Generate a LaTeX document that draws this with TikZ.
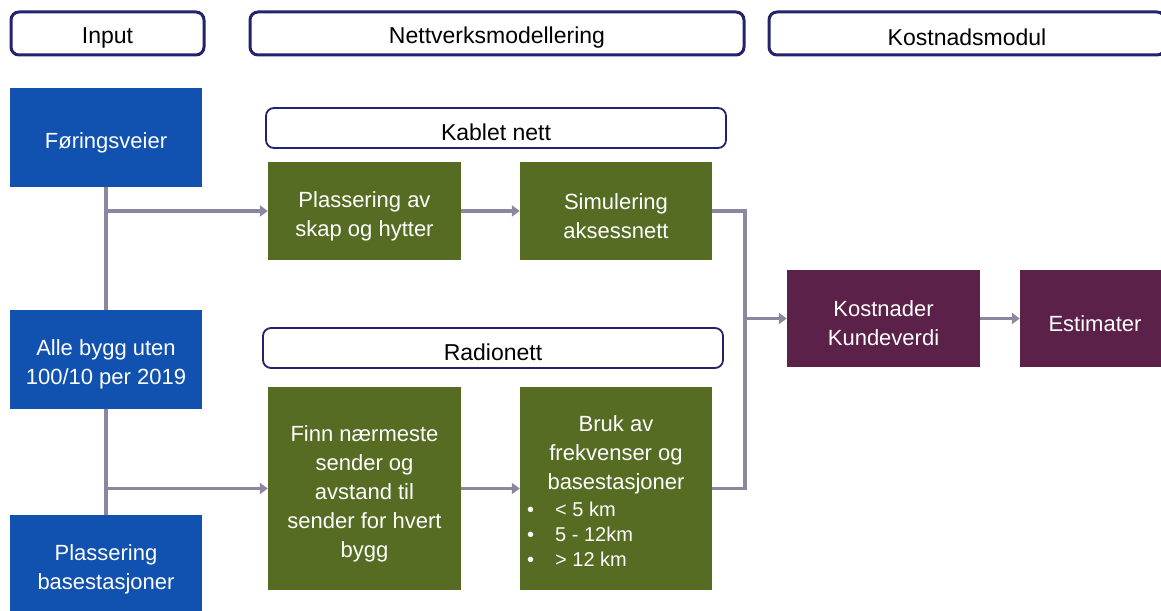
\documentclass[tikz,border=0pt]{standalone}
\usepackage{fontspec}
\setmainfont{Liberation Sans}
\usetikzlibrary{arrows.meta}
\definecolor{inblue}{HTML}{1151B0}
\definecolor{ngreen}{HTML}{566C23}
\definecolor{kpurple}{HTML}{5B2149}
\definecolor{lgrey}{HTML}{8D86A1}
\definecolor{navy}{HTML}{22226E}
\begin{document}
\begin{tikzpicture}[x=1pt,y=-1pt,
  hlbl/.style={inner sep=0pt, yshift=-4pt, align=center, font=\fontsize{23}{27}\selectfont},
  lbl/.style={inner sep=0pt, yshift=-5pt, text=white, align=center, font=\fontsize{22}{29}\selectfont},
  hdr/.style={draw=navy, line width=3pt, rounded corners=8pt, fill=white, inner sep=0pt, minimum height=43pt},
  sub/.style={draw=navy, line width=1.8pt, rounded corners=8pt, fill=white, inner sep=0pt, minimum height=40pt},
  box/.style={inner sep=0pt},
  bbox/.style={box, fill=inblue, minimum width=192pt},
  gbox/.style={box, fill=ngreen, minimum width=193pt},
  pbox/.style={box, fill=kpurple, minimum height=97pt},
  conn/.style={draw=lgrey, line width=3.5pt},
  arr/.style={conn, -{Triangle[length=8pt,width=11pt]}}]
\clip (0,0) rectangle (1161,610);
% headers
\node[hdr, minimum width=193pt, label={[hlbl]center:Input}] (hin) at (107.5,33.5) {};
\node[hdr, minimum width=494pt, label={[hlbl]center:Nettverksmodellering}] (hnet) at (497,33.5) {};
\node[hdr, minimum width=396pt, label={[hlbl]center:Kostnadsmodul}] (hkost) at (967,33.5) {};
\node[sub, minimum width=460pt, label={[hlbl]center:Kablet nett}] (hkab) at (496,128) {};
\node[sub, minimum width=460pt, label={[hlbl]center:Radionett}] (hrad) at (493,348) {};
% input boxes
\node[bbox, minimum height=99pt, label={[lbl]center:Føringsveier}] (fb) at (106,137.5) {};
\node[bbox, minimum height=99pt, label={[lbl]center:{Alle bygg uten\\100/10 per 2019}}] (ab) at (106,359.5) {};
\node[bbox, minimum height=98pt, label={[lbl]center:{Plassering\\basestasjoner}}] (pb) at (106,564) {};
% green boxes
\node[gbox, minimum height=98pt, label={[lbl]center:{Plassering av\\skap og hytter}}] (g1) at (364.5,211) {};
\node[gbox, minimum height=98pt, minimum width=192pt, label={[lbl]center:{Simulering\\aksessnett}}] (g2) at (616,211) {};
\node[gbox, minimum height=203pt, label={[lbl]center:{Finn nærmeste\\sender og\\avstand til\\sender for hvert\\bygg}}] (g3) at (364.5,488.5) {};
\node[gbox, minimum height=203pt, minimum width=192pt] (g4) at (616,488.5) {};
\node[lbl] (g4t) at (616,450) {Bruk av\\frekvenser og\\basestasjoner};
\node[lbl, yshift=0pt, align=left, anchor=north west, font=\fontsize{20}{25}\selectfont] (g4b) at (527,497)
  {\makebox[28pt][l]{\textbullet}< 5 km\\\makebox[28pt][l]{\textbullet}5 - 12km\\\makebox[28pt][l]{\textbullet}> 12 km};
% purple boxes
\node[pbox, minimum width=193pt, label={[lbl]center:{Kostnader\\Kundeverdi}}] (k1) at (883.5,318.5) {};
\node[pbox, minimum width=150pt, label={[lbl]center:Estimater}] (k2) at (1095,318.5) {};
% connectors
\draw[conn] (fb.south) -- (ab.north);
\draw[conn] (ab.south) -- (pb.north);
\draw[arr] (fb.south |- g1.west) -- (g1.west);
\draw[arr] (ab.south |- g3.west) -- (g3.west);
\draw[arr] (g1) -- (g2);
\draw[arr] (g3) -- (g4);
\coordinate (j) at (745,318.5);
\draw[conn] (g2.east) -| (j) |- (g4.east);
\draw[arr] (j) -- (k1.west);
\draw[arr] (k1) -- (k2);
\end{tikzpicture}
\end{document}
